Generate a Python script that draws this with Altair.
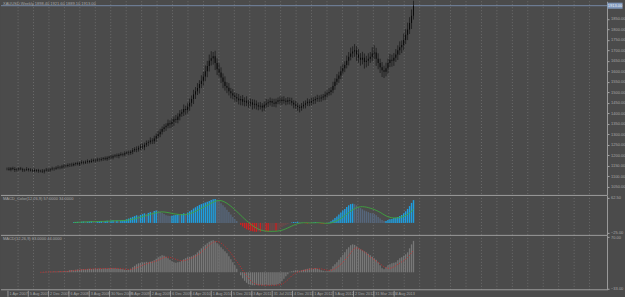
import altair as alt
import numpy as np
import pandas as pd

# ---------------- data ----------------
closes = [
    1135,1131,1138,1134,1129,1132,1136,1133,1128,1130,1134,1131,1127,1129,1125,1128,
    1124,1126,1122,1127,1130,1128,1133,1137,1135,1140,1143,1141,1146,1150,1148,1153,
    1155,1152,1158,1161,1157,1163,1166,1164,1169,1172,1168,1174,1177,1175,1180,1178,
    1182,1185,1181,1188,1192,1189,1195,1199,1196,1202,1206,1203,1209,1213,1210,1216,
    1224,1230,1227,1236,1242,1238,1250,1258,1262,1270,1266,1280,1292,1300,1312,1325,
    1333,1340,1352,1347,1360,1372,1368,1385,1398,1405,1420,1415,1432,1450,1468,1490,
    1505,1520,1540,1555,1575,1600,1625,1650,1662,1672,1640,1610,1595,1570,1550,1530,
    1522,1505,1495,1485,1478,1470,1462,1468,1455,1460,1450,1446,1452,1440,1445,1438,
    1432,1436,1428,1440,1448,1452,1458,1450,1445,1455,1462,1458,1465,1460,1455,1462,
    1458,1450,1442,1436,1430,1426,1434,1440,1448,1455,1450,1458,1462,1468,1472,1470,
    1475,1480,1488,1496,1502,1510,1530,1550,1565,1580,1600,1615,1630,1650,1670,1685,
    1695,1700,1680,1665,1655,1665,1645,1650,1660,1670,1685,1690,1660,1640,1620,1605,
    1598,1615,1640,1655,1650,1665,1680,1700,1715,1725,1750,1775,1800,1830,1865,1913,
]
upper_wick = [
    6,8,5,7,9,6,5,8,7,6,9,5,7,6,8,6,
    7,5,8,6,9,7,6,8,5,7,9,6,8,7,5,8,
    6,9,7,5,8,6,10,7,6,8,5,9,7,6,8,7,
    8,6,9,7,5,10,8,6,9,7,8,6,10,7,9,8,
    10,8,12,9,11,14,10,12,9,15,11,13,12,16,14,12,
    15,12,18,14,16,13,20,15,17,14,22,16,18,20,17,22,
    20,24,18,26,22,28,25,30,34,20,26,22,28,24,20,26,
    18,22,16,20,14,18,22,15,19,16,21,14,18,15,20,16,
    14,18,12,16,20,14,17,12,19,15,13,18,14,16,12,15,
    13,16,12,18,14,11,15,17,13,16,12,18,14,12,16,13,
    14,12,16,13,18,15,20,17,22,18,24,20,18,25,22,28,
    24,30,20,26,22,28,20,24,26,22,30,34,22,26,20,24,
    22,26,20,28,24,22,26,24,28,22,30,26,32,28,30,24,
]
lower_wick = [
    7,5,8,6,9,7,6,5,8,7,6,9,5,8,7,6,
    8,6,7,9,5,8,7,6,9,5,7,8,6,9,7,6,
    9,7,5,8,6,10,7,8,6,9,7,5,8,10,6,9,
    7,9,6,8,10,7,9,6,8,11,7,9,8,6,10,8,
    11,9,13,10,12,9,14,11,15,10,13,12,16,11,14,13,
    14,17,12,18,15,20,14,16,19,15,18,22,16,20,18,24,
    22,18,26,20,24,22,28,26,22,30,34,28,24,26,30,22,
    26,20,24,18,22,16,20,24,18,22,16,20,14,22,18,20,
    18,14,20,16,13,18,15,19,14,17,12,16,18,14,17,13,
    16,14,19,15,18,22,14,12,17,13,16,12,15,17,13,16,
    15,13,17,14,12,16,14,18,15,20,17,14,19,16,22,18,
    20,26,30,24,28,22,32,26,24,20,22,26,34,30,28,32,
    30,22,26,20,28,24,20,26,22,28,24,20,26,22,28,18,
]

macd_start = 34
macd_main = [
    1.5,2,2.5,2,3,3.5,3,3,3.5,4,3.5,3,3.5,4,4.5,4,
    5,5.5,5,6,6.5,6,6,5.5,6,6.5,7,9,11,13,
    15,17,19,18,20,22,24,22,25,27,26,30,31,30,27,25,
    22,19,18,17,18,19,20,21,20,22,24,23,26,29,32,36,
    39,42,45,47,49,51,53,55,57,59,60,58,54,49,44,39,
    33,27,21,15,10,5,0,-5,-9,-13,-16,-18,-20,-21,-22,-22,
    -21,-22,-21,-20,-21,-22,-21,-20,-19,-20,-18,-14,-10,-7,-5,-3,
    -1,1,2,2,3,2,1,0,-1,-2,-1,0,1,2,1,-1,
    -2,-3,-2,-1,1,4,8,12,16,21,26,31,35,40,44,47,
    48,47,44,40,37,34,31,29,27,25,24,22,19,15,11,7,
    5,5,7,9,10,12,13,15,17,20,24,29,35,42,50,57,
]
macd_signal = [
    1,1.2,1.5,1.7,2,2.2,2.5,2.7,2.9,3.1,3.2,3.3,3.4,3.5,3.6,3.7,
    3.9,4.2,4.4,4.7,5,5.3,5.5,5.6,5.7,5.9,6.1,6.6,7.3,8.2,
    9.3,10.5,11.8,13,14.3,15.7,17.2,18.5,20,21.5,22.8,24.2,25.5,26.6,27.3,27.5,
    27.3,26.6,25.8,24.8,23.8,22.8,22,21.4,20.8,20.5,20.6,21,21.8,23,24.6,26.6,
    28.8,31.2,33.8,36.4,39,41.6,44.2,46.8,49.4,51.8,54,55.4,56,55.6,54.2,52,
    49,45.6,41.8,37.6,33.2,28.6,24,19.2,14.4,9.8,5.4,1.2,-2.8,-6.6,-10,-13,
    -15.6,-17.6,-19,-20,-20.6,-21,-21.2,-21.2,-21,-20.8,-20.4,-19.6,-18.4,-16.8,-14.8,-12.6,
    -10.4,-8,-5.8,-3.8,-2,-0.8,0,0.4,0.4,0.2,0,0,0.2,0.4,0.5,0.4,
    0,-0.6,-1,-1.2,-1,0,1.5,3.3,5.6,8.2,11.2,14.5,18,21.8,25.6,29.2,
    32.6,35.6,38,39.6,40.4,40.6,40.2,39.4,38.2,36.8,35.2,33.4,31.4,29,26.4,23.4,
    20.4,17.6,15.4,13.8,12.8,12.4,12.4,12.8,13.6,14.8,16.4,18.6,21.4,25,29.2,34,
]

osc_start = 17
osc_hist = [
    0,0.5,0.5,1,0.5,1,1,1.5,1,1.5,2,1.5,2,2,2.5,
    4,4.5,4,5,5.5,5,6,6.5,6,6.5,7,6.5,7,7.5,7,7.5,
    7,7.5,8,7.5,8,8.5,8,8,7.5,7,6.5,6,5,4.5,5,7,
    10,13,16,18,19,20,20,21,20,21,22,24,27,30,32,34,
    33,31,28,25,22,20,19,20,21,23,26,28,30,31,32,34,
    36,40,44,48,52,55,58,61,63,64,62,58,54,50,46,42,
    38,32,26,20,14,7,0,-6,-12,-17,-21,-24,-25,-26,-26,-25,
    -26,-25,-26,-26,-25,-26,-26,-25,-26,-25,-24,-22,-18,-13,-8,-4,
    1,2,3,4,4,3,4,5,6,7,8,8,7,8,7,6,
    4,3,2,2,3,6,12,16,20,25,30,35,40,46,50,54,
    56,55,52,48,46,44,42,40,37,34,31,28,25,20,14,8,
    6,10,14,16,18,19,20,24,28,30,33,36,40,48,56,63,
]
osc_signal = [
    0,0.2,0.4,0.6,0.7,0.8,0.9,1,1.1,1.2,1.4,1.5,1.6,1.8,2,
    2.4,2.9,3.3,3.8,4.3,4.7,5.1,5.5,5.8,6.1,6.4,6.6,6.8,7,7.1,7.3,
    7.3,7.4,7.5,7.6,7.7,7.8,7.9,7.9,7.8,7.6,7.3,6.9,6.4,6,5.8,6,
    6.6,7.6,9,10.6,12.3,14,15.6,17,18.2,19.2,20.2,21.3,22.6,24.2,26,28,
    29.5,30.3,30.5,30,29,27.6,26,24.6,23.6,23,23.2,24,25.3,26.7,28.2,30,
    32,34.5,37.5,40.5,44,47.5,51,54.5,57.5,60,61.5,61.5,60.5,58.5,55.5,52,
    48,43.5,38.5,33,27.5,22,16.5,10.5,4.5,-1.5,-7,-12,-16.5,-20,-22.5,-24,
    -25,-25.5,-25.8,-26,-26,-26,-26,-26,-26,-25.8,-25.5,-24.8,-23.5,-21.5,-18.5,-15,
    -11,-7,-4,-1.5,0.5,2,3,3.8,4.5,5.2,6,6.7,7.2,7.6,7.6,7.3,
    6.8,6,5,4.2,3.8,4,5.3,7.2,9.7,12.6,16,19.8,24,28.5,33,39,
    44,48,49,48,46,44,41,38,34,31,28,25,22,20,17,14,
    11,9,8,8,9,11,13,16,18,21,23,26,30,34,39,44,
]

date_labels = [
    "1 Apr 2007", "5 Aug 2007", "2 Dec 2007", "6 Apr 2008", "3 Aug 2008",
    "30 Nov 2008", "5 Apr 2009", "2 Aug 2009", "6 Dec 2009", "4 Apr 2010",
    "1 Aug 2010", "5 Dec 2010", "3 Apr 2011", "31 Jul 2011", "4 Dec 2011",
    "1 Apr 2012", "5 Aug 2012", "2 Dec 2012", "31 Mar 2013", "4 Aug 2013",
]
price_ticks = [1850, 1800, 1750, 1700, 1650, 1600, 1550, 1500, 1450, 1400,
               1350, 1300, 1250, 1200, 1150, 1100, 1050]
macd_ticks = [62.5, -25.0]
osc_ticks = [70.0, -33.0]

title_main = "XAUUSD,Weekly  1898.40 1921.60 1889.10 1913.00"
title_macd = "MACD_Color(12,26,9) 57.0000 34.0000"
title_osc = "MACD(12,26,9) 63.0000 44.0000"

# ---------------- styling ----------------
BG = "#4b4b4b"
GRID = "#7a7a7a"
AXC = "#a6a6a6"
SEP = "#9c9c9c"
BID = "#7f97ba"
FONT = "Liberation Sans"

n = len(closes)
idx = np.arange(n)
opens = [closes[0]] + closes[:-1]
df = pd.DataFrame({"i": idx, "open": opens, "close": closes})
df["high"] = np.maximum(df["open"], df["close"]) + np.array(upper_wick)
df["low"] = np.minimum(df["open"], df["close"]) - np.array(lower_wick)
last_df = df.tail(1)

mv = np.array(macd_main, dtype=float)
prev = np.concatenate([[mv[0]], mv[:-1]])
mcol = np.where(mv >= 0, np.where(mv >= prev, "up", "dn"),
                np.where(mv <= prev, "ndn", "nup"))
macd_df = pd.DataFrame({"i": np.arange(macd_start, macd_start + len(mv)),
                        "v": mv, "s": macd_signal, "c": mcol})
osc_df = pd.DataFrame({"i": np.arange(osc_start, osc_start + len(osc_hist)),
                       "v": osc_hist, "s": osc_signal})

grid_df = pd.DataFrame({"g": 5.65 + 7.865 * np.arange(38)})
date_df = pd.DataFrame({"i": 0.5 + 10.35 * np.arange(len(date_labels)),
                        "t": date_labels})

W = 607
H1, H2, H3 = 194, 40, 55
xs = alt.Scale(domain=[-0.5, 303], nice=False, zero=False)


def X(f="i"):
    return alt.X(f"{f}:Q", scale=xs, axis=None)


def raxis(vals, fmt=".2f"):
    return alt.Axis(orient="right", values=vals, format=fmt, title=None, grid=False,
                    labelFontSize=4, labelFont=FONT, labelColor=AXC, tickColor=AXC,
                    tickSize=2, labelPadding=1.5, domainColor=SEP, domainWidth=1,
                    labelFlush=False, labelOverlap=False)


grid = alt.Chart(grid_df).mark_rule(color=GRID, strokeDash=[1, 2], strokeWidth=0.7).encode(x=X("g"))

# ---- main panel ----
ys1 = alt.Scale(domain=[1010.5, 1934.3], nice=False, zero=False)


def Y1(f):
    return alt.Y(f"{f}:Q", scale=ys1, axis=raxis(price_ticks))


bid = alt.Chart(last_df).mark_rule(color=BID, strokeWidth=0.8).encode(y=Y1("close"))
wicks = alt.Chart(df).mark_rule(color="#0a0a0a", strokeWidth=0.6).encode(
    x=X(), y=Y1("low"), y2="high:Q")
bodies = alt.Chart(df).mark_bar(size=1.0, color="#0a0a0a").encode(
    x=X(), y=Y1("open"), y2="close:Q")
tag = alt.Chart(last_df).mark_point(
    shape="M-1,-0.4L1,-0.4L1,0.4L-1,0.4Z", filled=True, size=230, color=BID, opacity=1
).encode(x=alt.value(615), y=Y1("close"))
tag_text = alt.Chart(last_df).mark_text(fontSize=4, font=FONT, color="#eef2f8").encode(
    x=alt.value(615), y=Y1("close"), text=alt.Text("close:Q", format=".2f"))
t1 = alt.Chart(pd.DataFrame({"t": [title_main]})).mark_text(
    align="left", baseline="top", fontSize=4, font=FONT, color=AXC
).encode(x=alt.value(2), y=alt.value(0.5), text="t:N")

main = alt.layer(grid, bid, wicks, bodies, tag, tag_text, t1).properties(width=W, height=H1)

# ---- MACD colored panel ----
ys2 = alt.Scale(domain=[-30, 70], nice=False, zero=False)


def Y2(f):
    return alt.Y(f"{f}:Q", scale=ys2, axis=raxis(macd_ticks))


sep2 = alt.Chart(pd.DataFrame({"z": [0]})).mark_rule(color=SEP, strokeWidth=1).encode(y=alt.value(0.5))
mbars = alt.Chart(macd_df).mark_bar(size=1.4).encode(
    x=X(), y=Y2("v"), y2=alt.datum(0),
    color=alt.Color("c:N", legend=None,
                    scale=alt.Scale(domain=["up", "dn", "ndn", "nup"],
                                    range=["#1f9fe0", "#56677c", "#cc2222", "#6e4848"])))
mline = alt.Chart(macd_df).mark_line(color="#3ea53e", strokeWidth=0.9).encode(x=X(), y=Y2("s"))
t2 = alt.Chart(pd.DataFrame({"t": [title_macd]})).mark_text(
    align="left", baseline="top", fontSize=4, font=FONT, color=AXC
).encode(x=alt.value(2), y=alt.value(2.5), text="t:N")
macd = alt.layer(grid, sep2, mbars, mline, t2).properties(width=W, height=H2)

# ---- standard MACD panel ----
ys3 = alt.Scale(domain=[-35, 75], nice=False, zero=False)


def Y3(f):
    return alt.Y(f"{f}:Q", scale=ys3, axis=raxis(osc_ticks))


sep3 = alt.Chart(pd.DataFrame({"z": [0]})).mark_rule(color=SEP, strokeWidth=1).encode(y=alt.value(0.5))
bottom = alt.Chart(pd.DataFrame({"z": [0]})).mark_rule(color=SEP, strokeWidth=1).encode(y=alt.value(H3))
obars = alt.Chart(osc_df).mark_bar(size=1.3, color="#787878").encode(x=X(), y=Y3("v"), y2=alt.datum(0))
oline = alt.Chart(osc_df).mark_line(color="#d42a2a", strokeWidth=0.9, strokeDash=[1, 1.5]).encode(
    x=X(), y=Y3("s"))
t3 = alt.Chart(pd.DataFrame({"t": [title_osc]})).mark_text(
    align="left", baseline="top", fontSize=4, font=FONT, color=AXC
).encode(x=alt.value(2), y=alt.value(2.5), text="t:N")
dticks = alt.Chart(date_df).mark_rule(color=AXC, strokeWidth=0.8).encode(
    x=X(), y=alt.value(H3 + 1), y2=alt.value(H3 + 7))
dtext = alt.Chart(date_df).mark_text(
    align="left", baseline="middle", fontSize=3.8, font=FONT, color=AXC, dx=1.5
).encode(x=X(), y=alt.value(H3 + 4.5), text="t:N")
osc = alt.layer(grid, sep3, bottom, obars, oline, t3, dticks, dtext).properties(width=W, height=H3)

chart = alt.vconcat(main, macd, osc, spacing=0, bounds="flush").properties(
    padding={"left": 0, "top": 0, "right": 0, "bottom": 0}
).configure(background=BG).configure_view(stroke=None, fill=BG)

chart.save("out.html", embed_options={"renderer": "svg", "actions": False})
